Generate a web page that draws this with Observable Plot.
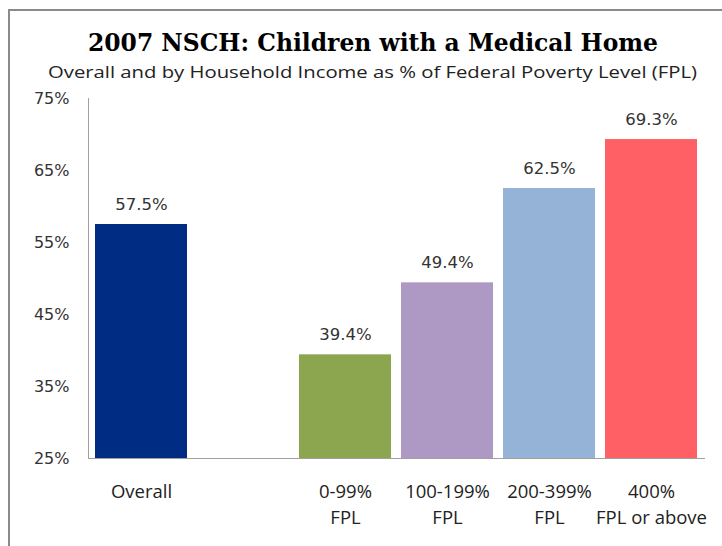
<!DOCTYPE html>
<html>
<head>
<meta charset="utf-8">
<script src="https://cdn.jsdelivr.net/npm/d3@7"></script>
<script src="https://cdn.jsdelivr.net/npm/@observablehq/plot@0.6"></script>
<style>
  html, body { margin: 0; padding: 0; background: #fff; overflow: hidden; }
  #wrap { position: relative; width: 722px; height: 546px; overflow: hidden; }
  #border { position: absolute; left: 8px; top: 9px; width: 800px; height: 700px; border: 2px solid #8a8a8a; box-sizing: border-box; }
  #overlay { position: absolute; left: 0; top: 0; }
  #chart { position: absolute; left: 0; top: 0; }
</style>
</head>
<body>
<div id="wrap">
  <div id="border"></div>
  <div id="chart"></div>
  <svg id="overlay" width="722" height="100"></svg>
</div>
<script>
const title = "2007 NSCH: Children with a Medical Home";
const subtitle = "Overall and by Household Income as % of Federal Poverty Level (FPL)";
const categories = ["Overall", "gap", "0-99% FPL", "100-199% FPL", "200-399% FPL", "400% FPL or above"];
const tickLabels = ["Overall", "", "0-99%\nFPL", "100-199%\nFPL", "200-399%\nFPL", "400%\nFPL or above"];
const barCategories = ["Overall", "0-99% FPL", "100-199% FPL", "200-399% FPL", "400% FPL or above"];
const values = [57.5, 39.4, 49.4, 62.5, 69.3];
const colors = ["#002C83", "#8BA64F", "#AE99C5", "#95B3D7", "#FF6066"];
const yTicks = [25, 35, 45, 55, 65, 75];

const data = barCategories.map((c, i) => ({cat: c, value: values[i], color: colors[i]}));
const labelOf = new Map(categories.map((c, i) => [c, tickLabels[i]]));

const chart = Plot.plot({
  width: 722,
  height: 546,
  marginTop: 98,
  marginBottom: 88,
  marginLeft: 88,
  marginRight: 17,
  style: {background: "transparent", overflow: "visible"},
  x: {domain: categories, paddingInner: 0.095, paddingOuter: 0.05, axis: null},
  y: {domain: [yTicks[0], yTicks[yTicks.length - 1]], axis: null},
  color: {type: "identity"},
  marks: [
    Plot.barY(data, {x: "cat", y1: yTicks[0], y2: "value", fill: "color"}),
    Plot.frame({anchor: "left", stroke: "#a0a0a0"}),
    Plot.ruleY([yTicks[0]], {stroke: "#a0a0a0"}),
    Plot.axisY({ticks: yTicks, tickFormat: d => d + "%", tickSize: 0, tickPadding: 19,
      fontSize: 16, fontFamily: "DejaVu Sans", fill: "#333", label: null}),
    Plot.axisX({tickFormat: d => labelOf.get(d), tickSize: 0, tickPadding: 21,
      fontSize: 18.5, fontFamily: "Open Sans", fill: "#222", lineHeight: 1.4, label: null}),
    Plot.text(data, {x: "cat", y: "value", text: d => d.value.toFixed(1) + "%",
      lineAnchor: "bottom", dy: -15, fontSize: 16.5, fontFamily: "DejaVu Sans", fill: "#333"})
  ]
});
document.getElementById("chart").appendChild(chart);

const ov = d3.select("#overlay");
ov.append("text").attr("x", 373).attr("y", 51).attr("text-anchor", "middle")
  .attr("font-family", "DejaVu Serif").attr("font-weight", "bold").attr("font-size", 24)
  .attr("fill", "#000").attr("textLength", 570).attr("lengthAdjust", "spacingAndGlyphs").text(title);
ov.append("text").attr("x", 372.5).attr("y", 78).attr("text-anchor", "middle")
  .attr("font-family", "Open Sans").attr("font-size", 16.5)
  .attr("fill", "#222").attr("textLength", 649).attr("lengthAdjust", "spacingAndGlyphs").text(subtitle);
</script>
</body>
</html>
